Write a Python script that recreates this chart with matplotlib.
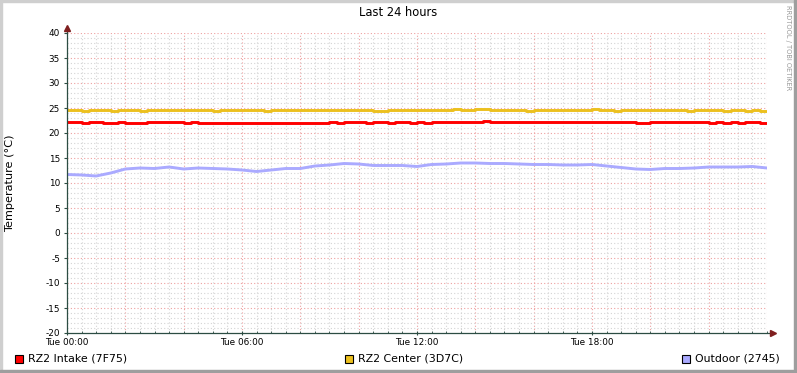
import matplotlib
matplotlib.use("Agg")
import matplotlib.pyplot as plt
from matplotlib.patches import Rectangle

# time in hours since Tue 00:00
outdoor_hours = [i * 0.5 for i in range(49)]
outdoor = [11.7, 11.6, 11.4, 12.0, 12.8, 13.0, 12.9, 13.2, 12.8, 13.0,
           12.9, 12.8, 12.6, 12.3, 12.6, 12.9, 12.9, 13.4, 13.6, 13.9,
           13.8, 13.5, 13.5, 13.5, 13.3, 13.7, 13.8, 14.0, 14.0, 13.9,
           13.9, 13.8, 13.7, 13.7, 13.6, 13.6, 13.7, 13.4, 13.1, 12.8,
           12.7, 12.9, 12.9, 13.0, 13.2, 13.2, 13.2, 13.3, 13.0]

q_hours = [i * 0.25 for i in range(97)]
intake = [22.2, 22.3, 22.1, 22.3, 22.2, 22.1, 22.1, 22.3, 22.1, 22.1,
          22.1, 22.2, 22.3, 22.3, 22.2, 22.3, 22.1, 22.3, 22.1, 22.1,
          22.1, 22.1, 22.1, 22.1, 22.1, 22.1, 22.1, 22.1, 22.1, 22.1,
          22.1, 22.1, 22.1, 22.1, 22.1, 22.1, 22.3, 22.1, 22.3, 22.2,
          22.3, 22.1, 22.3, 22.3, 22.1, 22.3, 22.2, 22.1, 22.3, 22.1,
          22.3, 22.2, 22.2, 22.2, 22.2, 22.2, 22.2, 22.5, 22.2, 22.2,
          22.2, 22.2, 22.2, 22.2, 22.2, 22.2, 22.2, 22.2, 22.2, 22.2,
          22.2, 22.2, 22.2, 22.2, 22.2, 22.2, 22.2, 22.2, 22.1, 22.1,
          22.2, 22.2, 22.2, 22.2, 22.2, 22.3, 22.3, 22.2, 22.1, 22.3,
          22.1, 22.3, 22.1, 22.2, 22.3, 22.1, 22.1]
center = [24.6, 24.6, 24.5, 24.6, 24.7, 24.6, 24.5, 24.7, 24.6, 24.6,
          24.4, 24.6, 24.7, 24.6, 24.6, 24.6, 24.6, 24.7, 24.6, 24.6,
          24.5, 24.6, 24.6, 24.6, 24.6, 24.6, 24.6, 24.5, 24.6, 24.6,
          24.6, 24.7, 24.6, 24.7, 24.6, 24.7, 24.6, 24.6, 24.7, 24.6,
          24.6, 24.6, 24.5, 24.5, 24.6, 24.6, 24.7, 24.6, 24.6, 24.6,
          24.7, 24.6, 24.6, 24.8, 24.7, 24.7, 24.8, 24.9, 24.6, 24.7,
          24.6, 24.6, 24.6, 24.5, 24.6, 24.6, 24.6, 24.6, 24.6, 24.7,
          24.6, 24.6, 24.8, 24.6, 24.6, 24.5, 24.6, 24.6, 24.6, 24.6,
          24.6, 24.6, 24.6, 24.6, 24.6, 24.5, 24.6, 24.6, 24.6, 24.6,
          24.4, 24.6, 24.6, 24.5, 24.6, 24.5, 24.5]

x_ticks = [0, 6, 12, 18]
x_labels = ["Tue 00:00", "Tue 06:00", "Tue 12:00", "Tue 18:00"]
y_ticks = list(range(-20, 41, 5))

series_names = ["RZ2 Intake (7F75)", "RZ2 Center (3D7C)", "Outdoor (2745)"]
series_colors = ["#ff0000", "#ecc01e", "#aaaaff"]

W, H = 797, 373
fig = plt.figure(figsize=(W / 100, H / 100), dpi=100)
fig.patch.set_facecolor("white")

# 3d-ish frame
fig.patches.append(Rectangle((0, 1 - 2 / H), 1, 2 / H, transform=fig.transFigure, color="#cfcfcf", zorder=0))
fig.patches.append(Rectangle((0, 0), 2 / W, 1, transform=fig.transFigure, color="#cfcfcf", zorder=0))
fig.patches.append(Rectangle((0, 0), 1, 3 / H, transform=fig.transFigure, color="#9e9e9e", zorder=0))
fig.patches.append(Rectangle((1 - 3 / W, 0), 3 / W, 1, transform=fig.transFigure, color="#9e9e9e", zorder=0))

ax = fig.add_axes([67 / W, (H - 333) / H, 700 / W, 300 / H])
ax.set_xlim(0, 24)
ax.set_ylim(-20, 40)
for s in ax.spines.values():
    s.set_visible(False)

# grid
dot = (0, (1, 2))
for i in range(1, 49):
    h = i * 0.5
    if i % 4 == 0:
        ax.axvline(h, color="#eea0a0", lw=0.8, ls=dot, zorder=1)
    else:
        ax.axvline(h, color="#d4d4d4", lw=0.8, ls=dot, zorder=1)
for v in range(-19, 41):
    if v % 5 == 0:
        ax.axhline(v, color="#eea0a0", lw=0.8, ls=dot, zorder=1)
    else:
        ax.axhline(v, color="#d4d4d4", lw=0.8, ls=dot, zorder=1)

ax.plot(q_hours, intake, color=series_colors[0], lw=2.1, drawstyle="steps-post", zorder=3)
ax.plot(q_hours, center, color=series_colors[1], lw=2.1, drawstyle="steps-post", zorder=3)
ax.plot(outdoor_hours, outdoor, color=series_colors[2], lw=2.1, zorder=3)

# axes with arrows
axis_col = "#2c4d43"
arrow_col = "#7f1f1f"
ax.plot([0, 24.2], [-20, -20], color=axis_col, lw=0.9, clip_on=False, zorder=4)
ax.plot([0, 0], [-20, 41.0], color=axis_col, lw=0.9, clip_on=False, zorder=4)
ax.plot([24.2], [-20], marker=">", color=arrow_col, ms=4, clip_on=False, zorder=5)
ax.plot([0], [41.0], marker="^", color=arrow_col, ms=4, clip_on=False, zorder=5)

ax.set_xticks(x_ticks)
ax.set_xticklabels(x_labels)
ax.set_xticks([i * 0.5 for i in range(49)], minor=True)
ax.set_yticks(y_ticks)
ax.set_yticklabels([str(v) for v in y_ticks])
ax.tick_params(axis="x", which="major", length=3, direction="inout", color=axis_col, labelsize=6.4, pad=2)
ax.tick_params(axis="x", which="minor", length=1.5, direction="in", color=axis_col)
ax.tick_params(axis="y", length=2, direction="out", color=axis_col, labelsize=6.4, pad=3)

ax.set_ylabel("Temperature (°C)", fontsize=8.1)
ax.yaxis.set_label_coords((15 - 67) / 700, 0.5)

fig.text(398 / W, 1 - 13 / H, "Last 24 hours", ha="center", va="center", fontsize=8.3)
fig.text(788 / W, 1 - 5 / H, "RRDTOOL / TOBI OETIKER", rotation=270, ha="center", va="top",
         fontsize=4.8, color="#999999")

# legend
leg_x = [15, 345, 682]
for lx, name, col in zip(leg_x, series_names, series_colors):
    fig.patches.append(Rectangle((lx / W, 1 - 363 / H), 8 / W, 8 / H, transform=fig.transFigure,
                                 facecolor=col, edgecolor="black", lw=0.8))
    fig.text((lx + 13) / W, 1 - 358.5 / H, name, ha="left", va="center", fontsize=7.9)

fig.savefig("out.png", dpi=100)
